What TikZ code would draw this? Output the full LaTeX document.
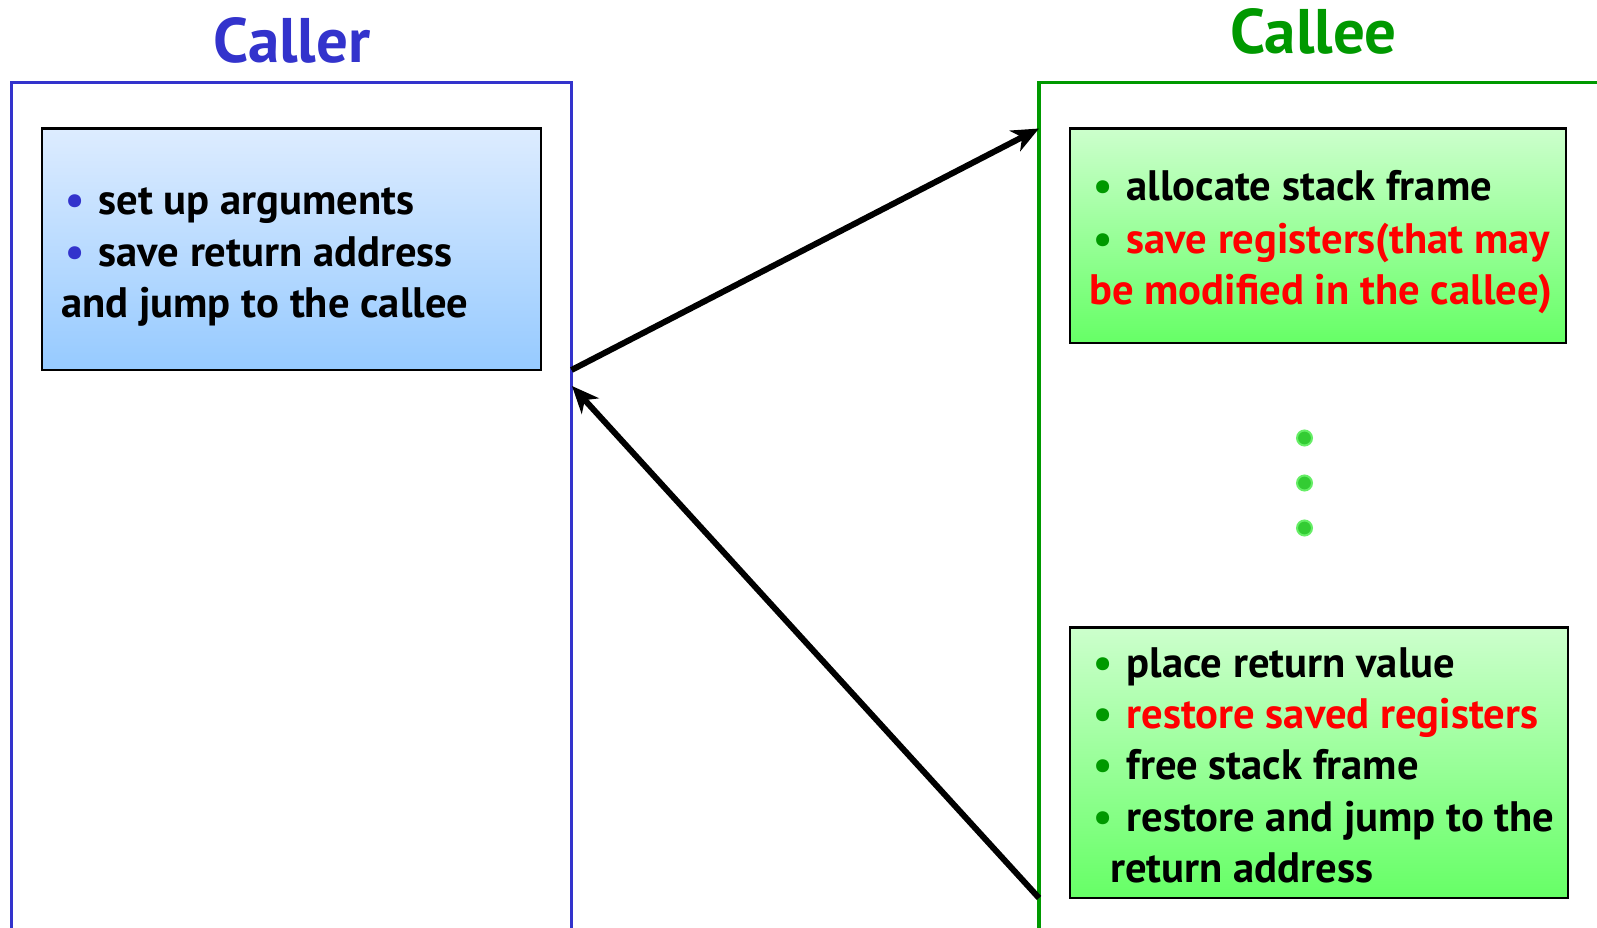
\documentclass[tikz,border=0pt]{standalone}
\usepackage{fontspec}
\setmainfont{PT Sans}
\usetikzlibrary{arrows.meta}
\definecolor{callerblue}{HTML}{3333CC}
\definecolor{calleegreen}{HTML}{009900}
\definecolor{alertred}{HTML}{FF0000}
\definecolor{dotgreen}{HTML}{33CC33}
\definecolor{dotrim}{HTML}{66EE66}
\definecolor{bluetop}{RGB}{221,236,255}
\definecolor{bluebottom}{RGB}{150,202,255}
\definecolor{greentop}{RGB}{204,255,204}
\definecolor{greenbottom}{RGB}{102,255,102}
\newcommand{\bul}[1]{{\color{#1}\textbullet}\hspace{0.33em}}
\tikzset{
  frameline/.style={line width=3.8pt},
  bluebox/.style={draw=black, line width=2.2pt, top color=bluetop, bottom color=bluebottom},
  greenbox/.style={draw=black, line width=2.2pt, top color=greentop, bottom color=greenbottom},
  bodytext/.style={anchor=base west, inner sep=0pt, font=\bfseries\fontsize{42.6}{48}\selectfont},
  titletext/.style={font=\bfseries\fontsize{63}{68}\selectfont},
  flow/.style={line width=6pt, -{Stealth[length=27pt, width=23pt, inset=8pt]}},
  gdot/.style={circle, fill=dotgreen, draw=dotrim, line width=2pt, minimum size=15pt, inner sep=0pt}
}
\begin{document}
\begin{tikzpicture}[x=1pt, y=-1pt]
\useasboundingbox (0,0) rectangle (1597,927);
\fill[white] (0,0) rectangle (1597,927);

% titles
\node[titletext, text=callerblue] (callertitle) at (292,40) {Caller};
\node[titletext, text=calleegreen] (calleetitle) at (1313.5,31) {Callee};

% outer frames (open towards the page edge)
\draw[frameline, callerblue] (11.5,935) -- (11.5,82.5) -- (571.5,82.5) -- (571.5,935);
\draw[frameline, calleegreen] (1039,935) -- (1039,82.5) -- (1605,82.5);

% caller box
\draw[bluebox] (42,128.5) rectangle (541,370);
\node[bodytext] (c1) at (65,214) {\bul{callerblue}set up arguments};
\node[bodytext] (c2) at (65,266) {\bul{callerblue}save return address};
\node[bodytext] (c3) at (61,317) {and jump to the callee};

% callee prologue box
\draw[greenbox] (1070,128.5) rectangle (1566,343);
\node[bodytext] (p1) at (1093,200) {\bul{calleegreen}allocate stack frame};
\node[bodytext] (p2) at (1093,253) {\bul{calleegreen}\textcolor{alertred}{save registers(that may}};
\node[bodytext, text=alertred] (p3) at (1089,304) {be modified in the callee)};

% elided body
\node[gdot] (d1) at (1304.5,438) {};
\node[gdot] (d2) at (1304.5,483) {};
\node[gdot] (d3) at (1304.5,528) {};

% callee epilogue box
\draw[greenbox] (1070,627.5) rectangle (1568,898);
\node[bodytext] (e1) at (1093,677) {\bul{calleegreen}place return value};
\node[bodytext] (e2) at (1093,728) {\bul{calleegreen}\textcolor{alertred}{restore saved registers}};
\node[bodytext] (e3) at (1093,779) {\bul{calleegreen}free stack frame};
\node[bodytext] (e4) at (1093,831) {\bul{calleegreen}restore and jump to the};
\node[bodytext] (e5) at (1110,882) {return address};

% call / return transfers
\coordinate (callfrom) at (571.5,370);
\coordinate (callto) at (1039,128.5);
\coordinate (retfrom) at (1039,898);
\coordinate (retto) at (572,386);
\draw[flow] (callfrom) -- (callto);
\draw[flow] (retfrom) -- (retto);
\end{tikzpicture}
\end{document}
